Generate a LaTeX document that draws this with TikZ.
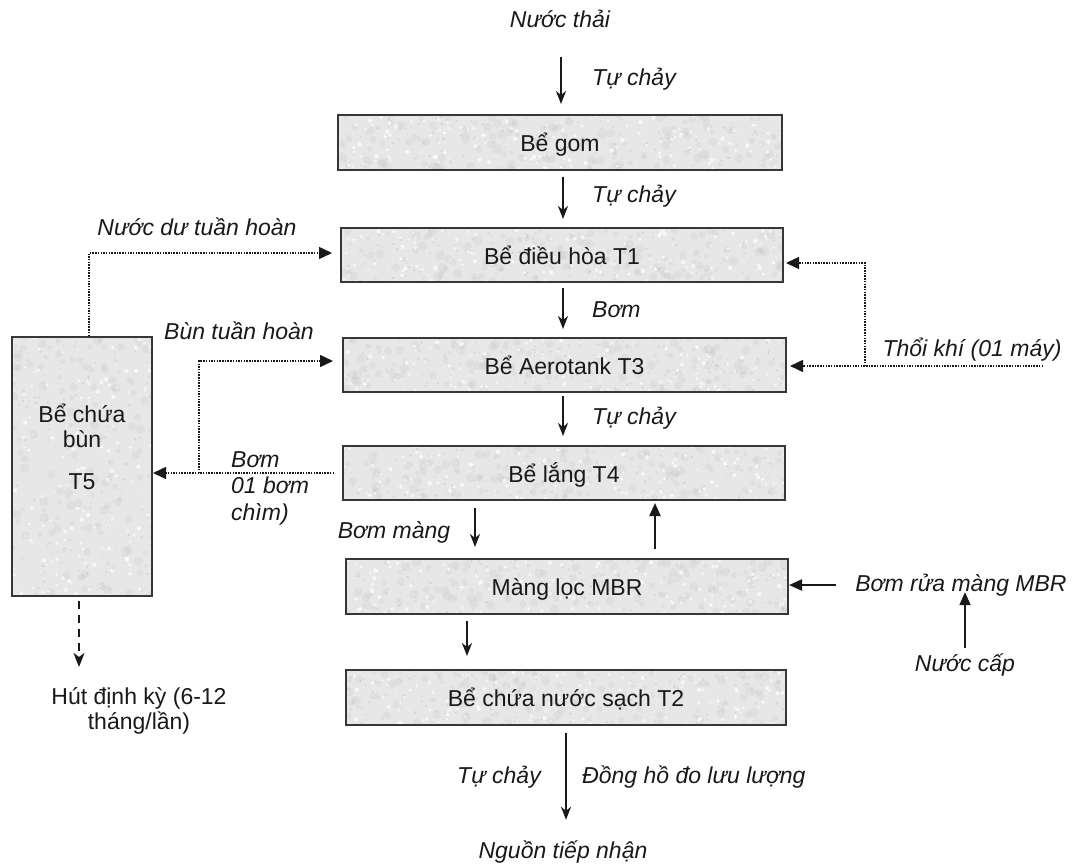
\documentclass[tikz,border=0pt]{standalone}
\usepackage{fontspec}
\setmainfont{Liberation Sans}
\usetikzlibrary{arrows.meta,calc}

\definecolor{tankfill}{RGB}{231,231,231}
\definecolor{tankline}{RGB}{55,55,55}
\definecolor{ink}{RGB}{25,25,25}

\tikzset{
  basefont/.style={font=\fontsize{23}{25}\selectfont},
  % mottled granite-like texture inside the tanks
  speckled/.style={path picture={
    \foreach \k in {1,...,#1}{
      \fill[black!40, opacity=0.09] let \p1=(path picture bounding box.south west),
                         \p2=(path picture bounding box.north east) in
        ({\x1+rnd*(\x2-\x1)},{\y1+rnd*(\y2-\y1)}) circle[radius={1.5pt+rnd*3.5pt}];
      \fill[black!18] let \p1=(path picture bounding box.south west),
                         \p2=(path picture bounding box.north east) in
        ({\x1+rnd*(\x2-\x1)},{\y1+rnd*(\y2-\y1)}) circle[radius={0.4pt+rnd*0.8pt}];
      \fill[white, opacity=0.7] let \p1=(path picture bounding box.south west),
                      \p2=(path picture bounding box.north east) in
        ({\x1+rnd*(\x2-\x1)},{\y1+rnd*(\y2-\y1)}) circle[radius={0.8pt+rnd*1.4pt}];
    }}},
  tank/.style={draw=tankline, line width=2pt, fill=tankfill, inner sep=0pt,
    basefont, text=ink, text height=20pt, text depth=2pt, speckled=150},
  lbl/.style={basefont, text=ink, inner sep=0pt, text height=17pt, text depth=5pt},
  note/.style={basefont, text=ink, inner sep=0pt},
  flow/.style={draw=ink, line width=2pt, -{Stealth[length=13pt,width=10pt,inset=4pt]}},
  push/.style={draw=ink, line width=2pt, -{Triangle[length=13pt,width=11pt]}},
  recyc/.style={draw=ink, line width=1.5pt, dash pattern=on 1.5pt off 1.2pt,
    -{Triangle[length=13pt,width=12pt]}},
  drain/.style={draw=ink, line width=2pt, dash pattern=on 8pt off 6pt,
    -{Stealth[length=14pt,width=11pt,inset=4pt]}},
}

\begin{document}
\begin{tikzpicture}[x=1pt,y=-1pt]
\pgfmathsetseed{4711}
\useasboundingbox (0,0) rectangle (1077,864);

% treatment tanks
\node[tank, minimum width=444pt, minimum height=55pt] (gom) at (560,142.5) {Bể gom};
\node[tank, minimum width=442pt, minimum height=54pt] (t1) at (562,255) {Bể điều hòa T1};
\node[tank, minimum width=443pt, minimum height=54pt] (t3) at (564.5,365) {Bể Aerotank T3};
\node[tank, minimum width=442pt, minimum height=54pt] (t4) at (564,473) {Bể lắng T4};
\node[tank, minimum width=442pt, minimum height=55pt] (mbr) at (567,586.5) {Màng lọc MBR};
\node[tank, minimum width=440pt, minimum height=55pt] (t2) at (566,697.5) {Bể chứa nước sạch T2};
\node[tank, minimum width=140pt, minimum height=259pt] (t5) at (82,466.5) {};
\node[note, align=center] (t5name) at (82,447) {Bể chứa\\bùn\\[17pt]T5};

% labels
\node[lbl] (nt) at (560,22) {\itshape Nước thải};
\node[lbl, anchor=west] (lb1) at (592,80) {\itshape Tự chảy};
\node[lbl, anchor=west] (lb2) at (592,197) {\itshape Tự chảy};
\node[lbl, anchor=west] (lb3) at (592,311) {\itshape Bơm};
\node[lbl, anchor=west] (lb4) at (592,418) {\itshape Tự chảy};
\node[lbl] (lbm) at (394,532) {\itshape Bơm màng};
\node[lbl] (lbo) at (499,777) {\itshape Tự chảy};
\node[lbl, anchor=west] (meter) at (582,777) {\itshape Đồng hồ đo lưu lượng};
\node[lbl] (src) at (563,852) {\itshape Nguồn tiếp nhận};
\node[lbl] (lrw) at (197,230) {\itshape Nước dư tuần hoàn};
\node[lbl] (lrs) at (239,333) {\itshape Bùn tuần hoàn};
\node[note, anchor=west, align=left, font=\fontsize{23}{26.5}\selectfont\itshape]
  (lpump) at (231,488) {Bơm\\01 bơm\\chìm)};
\node[lbl] (blower) at (972,350) {\itshape Thổi khí (01 máy)};
\node[lbl] (wash) at (961,585) {\itshape Bơm rửa màng MBR};
\node[lbl] (feed) at (965,665) {\itshape Nước cấp};
\node[note, align=center] (hut) at (139,710.5) {Hút định kỳ (6-12\\tháng/lần)};

% main line
\coordinate (axin) at (561,0);
\coordinate (ax) at (563,0);
\coordinate (axm) at (475,0);
\coordinate (axr) at (655,0);
\coordinate (axc) at (467,0);
\coordinate (axo) at (566,0);
\draw[flow, shorten <=24pt, shorten >=10pt] (nt.south -| axin) -- (gom.north -| axin);
\draw[flow, shorten <=6pt, shorten >=8pt] (gom.south -| ax) -- (t1.north -| ax);
\draw[flow, shorten <=5pt, shorten >=8pt] (t1.south -| ax) -- (t3.north -| ax);
\draw[flow, shorten <=3pt, shorten >=9pt] (t3.south -| ax) -- (t4.north -| ax);
\draw[flow, shorten <=7pt, shorten >=11pt] (t4.south -| axm) -- (mbr.north -| axm);
\draw[push, shorten <=9pt, shorten >=2pt] (mbr.north -| axr) -- (t4.south -| axr);
\draw[flow, shorten <=6pt, shorten >=13pt] (mbr.south -| axc) -- (t2.north -| axc);
\draw[flow, shorten <=7pt, shorten >=21pt] (t2.south -| axo) -- (src.north -| axo);

% sludge tank
\coordinate (axs) at (79,0);
\coordinate (up) at (89,0);
\coordinate (jx) at (199,0);
\draw[drain, shorten <=4pt, shorten >=20pt] (t5.south -| axs) -- (hut.north -| axs);
\draw[recyc, shorten >=8pt] (t5.north -| up) |- ([yshift=2pt]t1.west);
\draw[recyc, shorten >=9pt] (t4.west -| jx) |- ([yshift=4pt]t3.west);
\draw[recyc, shorten <=8pt] (t4.west) -- (t5.east |- t4.west);

% aeration
\coordinate (air) at (1043,366);
\coordinate (branch) at (865,366);
\draw[recyc, shorten >=3pt] (air) -- (t3.east |- air);
\draw[recyc, shorten >=2pt] (branch) |- ([yshift=-8pt]t1.east);

% membrane backwash
\draw[push, shorten <=19pt] (wash.west) -- (mbr.east |- wash.west);
\draw[push, shorten <=6pt, shorten >=-4pt] (feed.north) -- (wash.south -| feed.north);
\end{tikzpicture}
\end{document}
